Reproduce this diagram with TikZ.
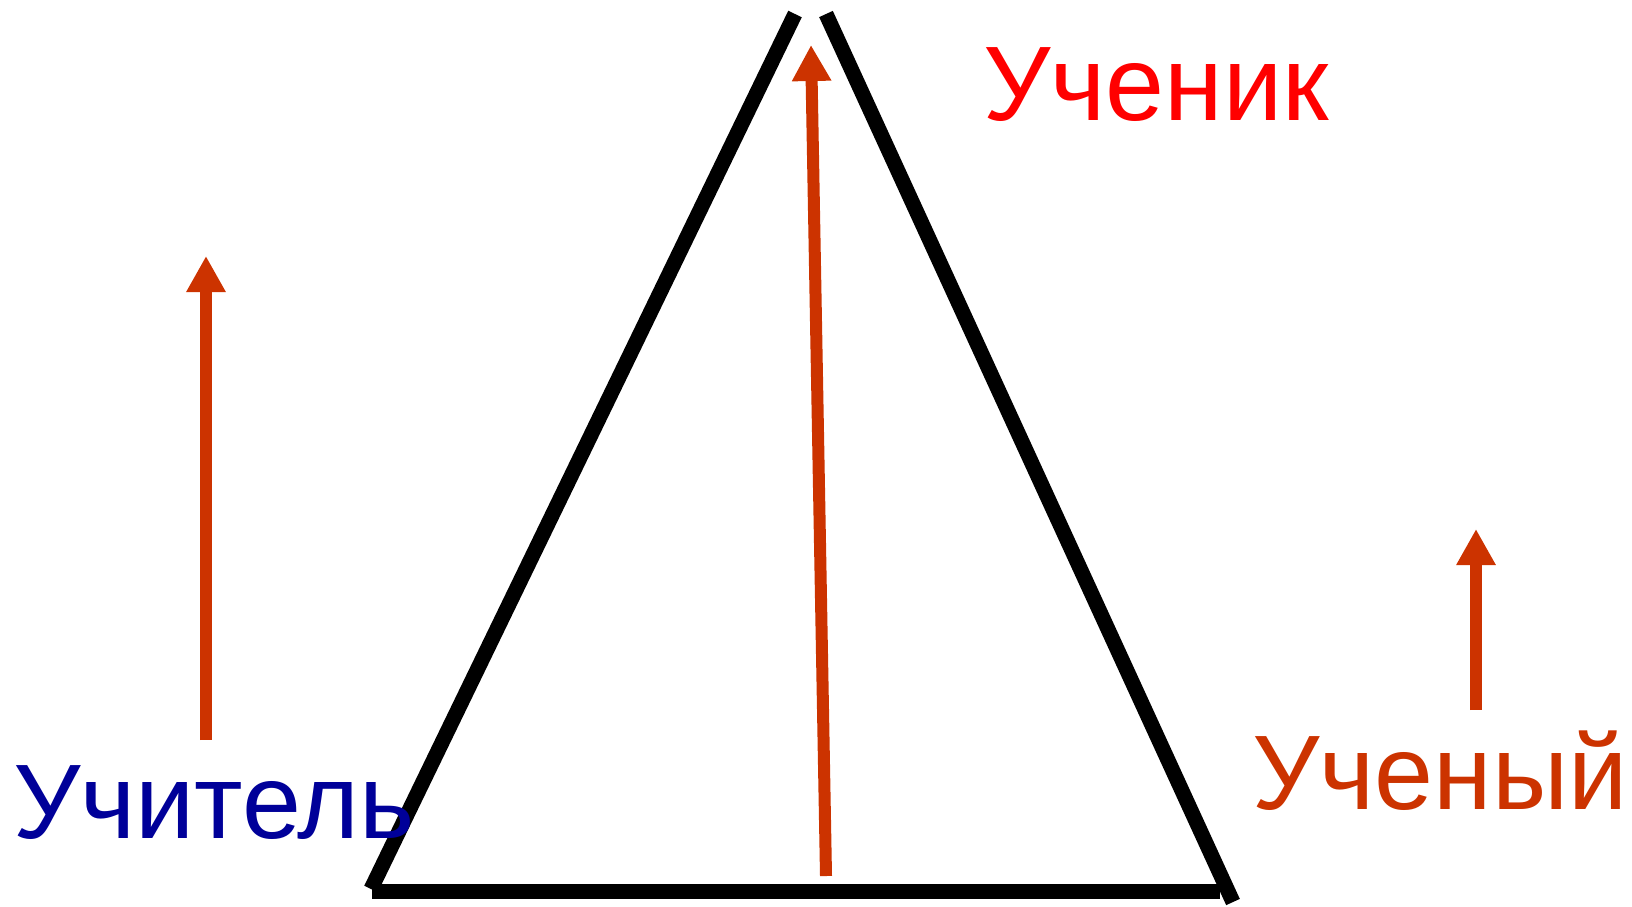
\documentclass[tikz,border=0pt]{standalone}
\usepackage{fontspec}
\setmainfont{Liberation Sans}
\usetikzlibrary{arrows.meta}
\definecolor{arrowred}{HTML}{CC3300}
\definecolor{pupilred}{HTML}{FF0000}
\definecolor{teachblue}{HTML}{000099}
\begin{document}
\begin{tikzpicture}[x=1pt,y=-1pt,
  edge/.style={line width=15pt,black,line cap=butt},
  uparrow/.style={line width=12pt,arrowred,-{Triangle[length=36pt,width=37pt]}},
  word/.style={anchor=base west,inner sep=0pt,font=\fontsize{106}{106}\selectfont}]
\useasboundingbox (0,0) rectangle (1632,906);
% triangle
\coordinate (lt) at (795,14);
\coordinate (lb) at (371,889);
\coordinate (rt) at (826,14);
\coordinate (rb) at (1233,902);
\coordinate (bl) at (372,891);
\coordinate (br) at (1220,891);
\draw[edge] (lt) -- (lb);
\draw[edge] (rt) -- (rb);
\draw[edge] (bl) -- (br);
% arrows
\coordinate (ma) at (826,876);
\coordinate (mb) at (811,45);
\coordinate (la) at (206,740);
\coordinate (lbb) at (206,256);
\coordinate (ra) at (1476,710);
\coordinate (rbb) at (1476,529);
\draw[uparrow] (ma) -- (mb);
\draw[uparrow] (la) -- (lbb);
\draw[uparrow] (ra) -- (rbb);
% labels
\node[word,text=teachblue] (teacher) at (13,838) {Учитель};
\node[word,text=pupilred] (pupil) at (983,120) {Ученик};
\node[word,text=arrowred] (scholar) at (1252,809) {Ученый};
\end{tikzpicture}
\end{document}
